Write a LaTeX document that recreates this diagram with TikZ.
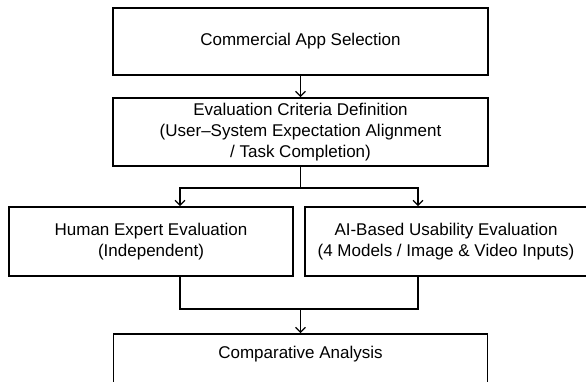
\documentclass[tikz,border=0pt]{standalone}
\usepackage{fontspec}
\setmainfont{Liberation Sans}
\usepackage{tikz}
\usetikzlibrary{calc,arrows.meta}

\begin{document}
\begin{tikzpicture}[x=1pt,y=-1pt,
        stagebox/.style={draw,line width=1.6pt,align=center,inner sep=0pt,
            font=\fontsize{17}{21}\selectfont},
        flow/.style={line width=1.3pt},
        >={Straight Barb[length=5pt,width=10pt]}]
        % Page frame:
        % The picture is cut at its right and bottom border, so clip it
        \useasboundingbox (0,0) rectangle (586,382);
        \clip (0,0) rectangle (586,382);

        % Boxes:
        % Placed at their centres, sizes given as minimum width/height
        \node [stagebox,minimum width=375pt,minimum height=67pt] (select) at (300.5,41.5)
            {Commercial App Selection};
        \node [stagebox,minimum width=375pt,minimum height=68pt] (criteria) at (300.5,132)
            {Evaluation Criteria Definition\\(User--System Expectation Alignment\\/ Task Completion)};
        \node [stagebox,minimum width=284pt,minimum height=69pt] (human) at (151,241.5)
            {Human Expert Evaluation\\(Independent)};
        \node [stagebox,minimum width=282pt,minimum height=69pt] (ai) at (446,241.5)
            {AI-Based Usability Evaluation\\(4 Models / Image \& Video Inputs)};
        % The last box runs past the bottom edge, its text sits near the top:
        \node [stagebox,minimum width=374pt,minimum height=72pt,text height=6pt,text depth=30pt] (compare) at (300.5,370)
            {Comparative Analysis};

        % Connectors:
        \coordinate (fork) at (300.5,188);
        \coordinate (join) at (300.5,309);
        \begin{scope}[flow]
            \draw [->] (select) -- (criteria);
            \draw (criteria.south) -- (fork);
            \draw [->] (fork) -| ([xshift=29pt]human.north);
            \draw [->] (fork) -| ([xshift=-28pt]ai.north);
            \draw ([xshift=29pt]human.south) |- (join) -| ([xshift=-28pt]ai.south);
            \draw [->] (join) -- (compare.north);
        \end{scope}
\end{tikzpicture}
\end{document}
